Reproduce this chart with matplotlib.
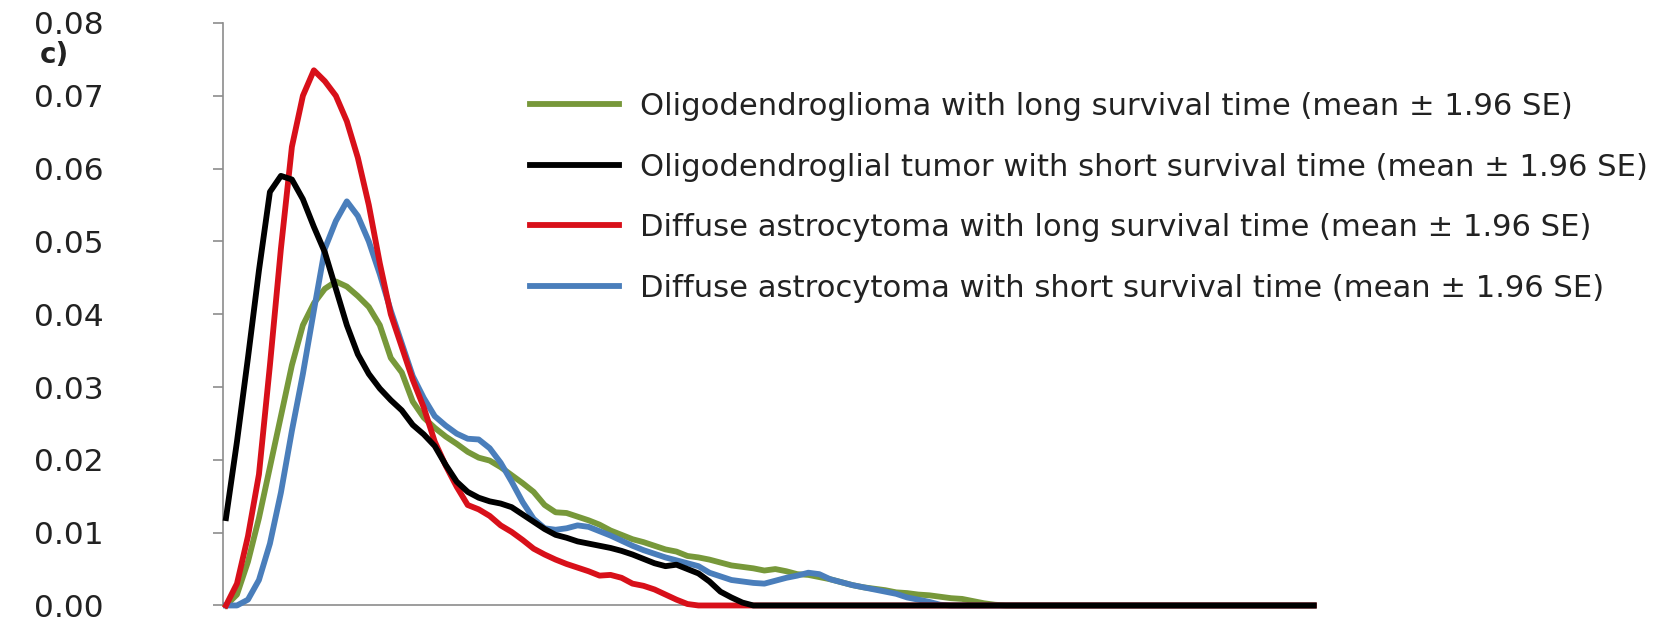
import numpy as np
import matplotlib
matplotlib.use("Agg")
import matplotlib.pyplot as plt

# ===========================================
# data (100 bins, unlabelled x axis)

bins = np.arange(100)

olig_long = [
    0.0, 0.0015, 0.006, 0.012, 0.019, 0.026, 0.033, 0.0385, 0.0415, 0.0435,
    0.0445, 0.0438, 0.0425, 0.041, 0.0385, 0.034, 0.032, 0.028, 0.0258, 0.0244,
    0.0232, 0.0222, 0.0211, 0.0203, 0.0199, 0.019, 0.0179, 0.0168, 0.0156, 0.0138,
    0.0128, 0.0127, 0.0122, 0.0117, 0.0111, 0.0103, 0.0097, 0.0091, 0.0087, 0.0082,
    0.0077, 0.0074, 0.0068, 0.0066, 0.0063, 0.0059, 0.0055, 0.0053, 0.0051, 0.0048,
    0.0050, 0.0047, 0.0043, 0.0042, 0.0039, 0.0036, 0.0032, 0.0028, 0.0025, 0.0023,
    0.0021, 0.0018, 0.0017, 0.0015, 0.0014, 0.0012, 0.0010, 0.0009, 0.0006, 0.0003,
    0.0001, 0, 0, 0, 0, 0, 0, 0, 0, 0,
    0, 0, 0, 0, 0, 0, 0, 0, 0, 0,
    0, 0, 0, 0, 0, 0, 0, 0, 0, 0,
]

olig_short = [
    0.012, 0.0225, 0.034, 0.046, 0.0568, 0.059, 0.0585, 0.0558, 0.052, 0.0485,
    0.0435, 0.0385, 0.0345, 0.0318, 0.0298, 0.0282, 0.0268, 0.0248, 0.0235, 0.0219,
    0.0193, 0.0170, 0.0156, 0.0148, 0.0143, 0.0140, 0.0135, 0.0125, 0.0115, 0.0105,
    0.0097, 0.0093, 0.0088, 0.0085, 0.0082, 0.0079, 0.0075, 0.0070, 0.0064, 0.0058,
    0.0054, 0.0056, 0.0050, 0.0044, 0.0033, 0.0019, 0.0011, 0.0004, 0, 0,
    0, 0, 0, 0, 0, 0, 0, 0, 0, 0,
    0, 0, 0, 0, 0, 0, 0, 0, 0, 0,
    0, 0, 0, 0, 0, 0, 0, 0, 0, 0,
    0, 0, 0, 0, 0, 0, 0, 0, 0, 0,
    0, 0, 0, 0, 0, 0, 0, 0, 0, 0,
]

astro_long = [
    0.0, 0.003, 0.0095, 0.018, 0.033, 0.049, 0.063, 0.070, 0.0735, 0.072,
    0.070, 0.0665, 0.0615, 0.055, 0.047, 0.040, 0.0355, 0.031, 0.0272, 0.0225,
    0.0192, 0.0163, 0.0138, 0.0132, 0.0123, 0.0110, 0.0101, 0.0090, 0.0078, 0.0070,
    0.0063, 0.0057, 0.0052, 0.0047, 0.0041, 0.0042, 0.0038, 0.0030, 0.0027, 0.0022,
    0.0015, 0.0008, 0.0002, 0, 0, 0, 0, 0, 0, 0,
    0, 0, 0, 0, 0, 0, 0, 0, 0, 0,
    0, 0, 0, 0, 0, 0, 0, 0, 0, 0,
    0, 0, 0, 0, 0, 0, 0, 0, 0, 0,
    0, 0, 0, 0, 0, 0, 0, 0, 0, 0,
    0, 0, 0, 0, 0, 0, 0, 0, 0, 0,
]

astro_short = [
    0.0, 0.0, 0.0008, 0.0035, 0.0085, 0.0155, 0.024, 0.0318, 0.0405, 0.049,
    0.0528, 0.0555, 0.0535, 0.050, 0.0455, 0.0405, 0.036, 0.0315, 0.0285, 0.026,
    0.0247, 0.0236, 0.0229, 0.0228, 0.0216, 0.0196, 0.017, 0.0142, 0.0119, 0.0106,
    0.0104, 0.0106, 0.0110, 0.0108, 0.0102, 0.0096, 0.0089, 0.0082, 0.0076, 0.0071,
    0.0066, 0.0062, 0.0058, 0.0054, 0.0045, 0.0040, 0.0035, 0.0033, 0.0031, 0.0030,
    0.0034, 0.0038, 0.0041, 0.0045, 0.0043, 0.0036, 0.0032, 0.0028, 0.0025, 0.0022,
    0.0019, 0.0016, 0.0011, 0.0008, 0.0005, 0.0001, 0, 0, 0, 0,
    0, 0, 0, 0, 0, 0, 0, 0, 0, 0,
    0, 0, 0, 0, 0, 0, 0, 0, 0, 0,
    0, 0, 0, 0, 0, 0, 0, 0, 0, 0,
]

labels = [
    "Oligodendroglioma with long survival time (mean \u00b1 1.96 SE)",
    "Oligodendroglial tumor with short survival time (mean \u00b1 1.96 SE)",
    "Diffuse astrocytoma with long survival time (mean \u00b1 1.96 SE)",
    "Diffuse astrocytoma with short survival time (mean \u00b1 1.96 SE)",
]
colors = ["#77983a", "#000000", "#d8101a", "#4a7ebb"]
yticks = [0.00, 0.01, 0.02, 0.03, 0.04, 0.05, 0.06, 0.07, 0.08]

# ===========================================

def main():
    plt.rcParams['font.family'] = ['DejaVu Sans']

    fig = plt.figure(figsize=(16.63, 6.21), dpi=100)
    ax = fig.add_axes([0.1341, 0.025, 0.6572, 0.938])

    series = [olig_long, olig_short, astro_long, astro_short]
    # draw order: green, blue, red, then black on top
    zorders = [3, 6, 5, 4]
    handles = []
    for k in range(4):
        ln, = ax.plot(bins, series[k], color=colors[k], lw=4.2,
                      solid_joinstyle='round', clip_on=False, zorder=zorders[k])
        handles.append(ln)

    ### axes styling
    ax.set_ylim(0, 0.08)
    ax.set_xlim(-0.27, 99.2)
    ax.set_yticks(yticks)
    ax.set_yticklabels(["%.2f" % t for t in yticks])
    ax.set_xticks([])
    for s in ['top', 'right']:
        ax.spines[s].set_visible(False)
    for s in ['left', 'bottom']:
        ax.spines[s].set_color('#8c8c8c')
        ax.spines[s].set_linewidth(1.2)
    ax.tick_params(axis='y', direction='out', length=7, width=1.2,
                   color='#8c8c8c', pad=79, labelsize=22.5, labelcolor='#222222')

    ### legend
    leg = ax.legend(handles, labels, loc='upper left',
                    bbox_to_anchor=(530 / 1663, 529 / 621),
                    bbox_transform=fig.transFigure, frameon=False,
                    fontsize=22.1, handlelength=2.9, handletextpad=0.69,
                    labelspacing=1.03, borderpad=0, borderaxespad=0)
    for t in leg.get_texts():
        t.set_color('#222222')

    fig.text(40 / 1663, 1 - 55 / 621, "c)", fontsize=20, fontweight='bold',
             va='center', ha='left', color='#222222')

    plt.savefig("out.png", dpi=100)

# ===========================================

if __name__ == "__main__":
    main()
